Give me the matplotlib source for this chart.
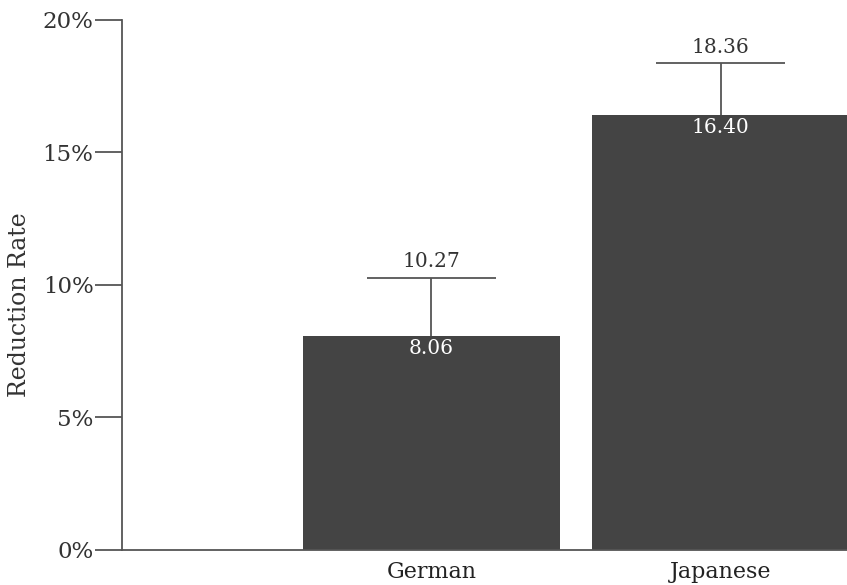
import matplotlib.pyplot as plt

languages = ["German", "Japanese"]
means = [8.06, 16.40]
uppers = [10.27, 18.36]
yticks = [0, 5, 10, 15, 20]

plt.rcParams['font.family'] = ['DejaVu Serif']

fig = plt.figure(figsize=(8.47, 5.85), dpi=100)
ax = fig.add_axes([0.144, 0.06, 0.857, 0.906])

x = list(range(len(languages)))
width = 0.89
ax.bar(x, means, width=width, color="#444444", zorder=2)

for i, (m, u) in enumerate(zip(means, uppers)):
    ax.vlines(i, m, u, color="#555555", lw=1.3, zorder=1)
    ax.hlines(u, i - width / 4, i + width / 4, color="#555555", lw=1.3)
    ax.text(i, u + 0.25, "%.2f" % u, ha="center", va="bottom", fontsize=14.5, color="#333333")
    ax.text(i, m - 0.12, "%.2f" % m, ha="center", va="top", fontsize=14.5, color="white")

ax.set_xlim(-1.07, 1.44)
ax.set_ylim(0, 20)
ax.set_yticks(yticks)
ax.set_yticklabels(["%d%%" % t for t in yticks], fontsize=16.5, color="#333333")
ax.set_xticks(x)
ax.set_xticklabels(languages, fontsize=16, color="#222222")
ax.tick_params(axis="y", length=19.5, width=1.3, color="#555555", pad=1)
ax.tick_params(axis="x", length=0, pad=8)
fig.text(20 / 847, 1 - 305 / 585, "Reduction Rate", rotation=90, ha="center", va="center",
         fontsize=17, color="#333333")

for side in ["top", "right"]:
    ax.spines[side].set_visible(False)
for side in ["left", "bottom"]:
    ax.spines[side].set_color("#555555")
    ax.spines[side].set_linewidth(1.3)

fig.savefig("out.png", dpi=100)
